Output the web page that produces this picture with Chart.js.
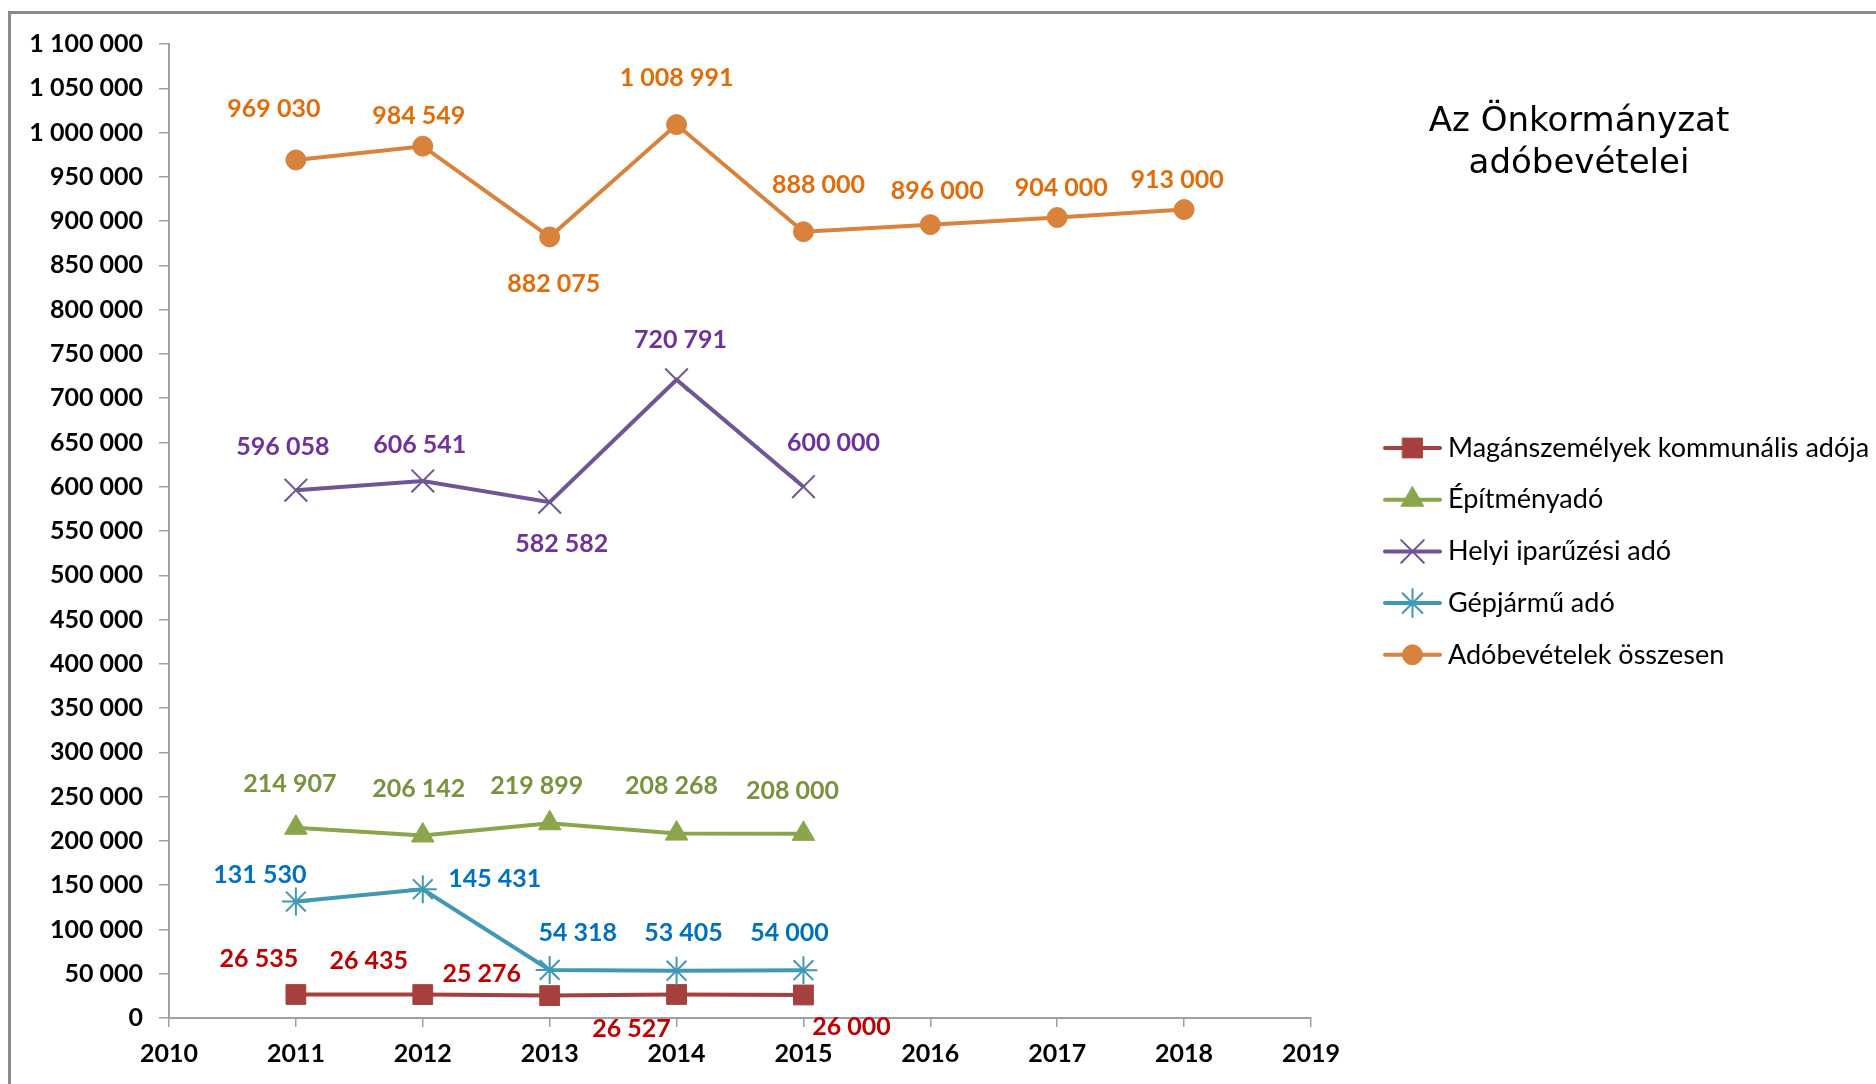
<!DOCTYPE html>
<html>
<head>
<meta charset="utf-8">
<script src="https://cdn.jsdelivr.net/npm/chart.js@4.4.1/dist/chart.umd.min.js"></script>
<style>
html,body{margin:0;padding:0;background:#ffffff;overflow:hidden;}
canvas{display:block;}
</style>
</head>
<body>
<canvas id="c" width="1876" height="1084"></canvas>
<script>
// ---------- DATA ----------
const years = [2011, 2012, 2013, 2014, 2015, 2016, 2017, 2018];
const seriesNames = [
  'Magánszemélyek kommunális adója',
  'Építményadó',
  'Helyi iparűzési adó',
  'Gépjármű adó',
  'Adóbevételek összesen'
];
const kommunalis  = [26535, 26435, 25276, 26527, 26000];
const epitmenyado = [214907, 206142, 219899, 208268, 208000];
const iparuzesi   = [596058, 606541, 582582, 720791, 600000];
const gepjarmu    = [131530, 145431, 54318, 53405, 54000];
const osszesen    = [969030, 984549, 882075, 1008991, 888000, 896000, 904000, 913000];
const xAxisRange  = [2010, 2019];
const xAxisStep   = 1;
const yAxisRange  = [0, 1100000];
const yAxisStep   = 50000;
const titleLines  = ['Az Önkormányzat', 'adóbevételei'];

// ---------- STYLES ----------
const seriesStyle = [
  {line:'#A5403D', label:'#C00000', point:'rect',     radius:14, pbw:1, fill:true},
  {line:'#8AA54A', label:'#77933C', point:'triangle', radius:13, pbw:1, fill:true},
  {line:'#6F5496', label:'#7030A0', point:'crossRot', radius:16, pbw:2, fill:false},
  {line:'#4198B2', label:'#0070C0', point:'star',     radius:14, pbw:2, fill:false},
  {line:'#D9823B', label:'#E36C09', point:'circle',   radius:10, pbw:1, fill:true}
];
// label offsets (dx, dy) relative to each point, per series
const labelOffsets = [
  [[-37,-36],[-54,-34],[-68,-22],[-45,34],[48,32]],
  [[-6,-44],[-4,-47],[-13,-37],[-5,-48],[-11,-43]],
  [[-13,-43],[-3,-36],[12,42],[4,-40],[30,-44]],
  [[-36,-27],[72,-10],[28,-37],[7,-38],[-14,-37]],
  [[-22,-51],[-4,-30],[4,47],[0,-47],[15,-47],[7,-34],[4,-30],[-7,-30]]
];
const FONT = 'Lato, "Open Sans", "DejaVu Sans", sans-serif';

const seriesValues = [kommunalis, epitmenyado, iparuzesi, gepjarmu, osszesen];

function fmt(v){
  return String(Math.round(v)).replace(/\B(?=(\d{3})+(?!\d))/g, ' ');
}

function drawMarker(ctx, style, r, x, y, color, bw, fill){
  ctx.save();
  ctx.strokeStyle = color;
  ctx.fillStyle = color;
  ctx.lineWidth = bw;
  ctx.beginPath();
  const s = Math.SQRT1_2 * r;
  if (style === 'circle'){
    ctx.arc(x, y, r, 0, Math.PI*2);
    ctx.closePath();
  } else if (style === 'rect'){
    ctx.rect(x - s, y - s, 2*s, 2*s);
  } else if (style === 'triangle'){
    const a = -Math.PI/2;
    ctx.moveTo(x + Math.cos(a)*r, y + Math.sin(a)*r);
    ctx.lineTo(x + Math.cos(a+2*Math.PI/3)*r, y + Math.sin(a+2*Math.PI/3)*r);
    ctx.lineTo(x + Math.cos(a+4*Math.PI/3)*r, y + Math.sin(a+4*Math.PI/3)*r);
    ctx.closePath();
  } else if (style === 'crossRot'){
    ctx.moveTo(x - s, y - s); ctx.lineTo(x + s, y + s);
    ctx.moveTo(x - s, y + s); ctx.lineTo(x + s, y - s);
  } else if (style === 'star'){
    ctx.moveTo(x, y - r); ctx.lineTo(x, y + r);
    ctx.moveTo(x - r, y); ctx.lineTo(x + r, y);
    ctx.moveTo(x - s, y - s); ctx.lineTo(x + s, y + s);
    ctx.moveTo(x - s, y + s); ctx.lineTo(x + s, y - s);
  }
  if (fill) ctx.fill();
  ctx.stroke();
  ctx.restore();
}

const datasets = seriesValues.map((vals, i) => {
  const st = seriesStyle[i];
  return {
    label: seriesNames[i],
    data: vals.map((v, k) => ({x: years[k], y: v})),
    borderColor: st.line,
    backgroundColor: st.line,
    borderWidth: 4,
    pointStyle: st.point,
    pointRadius: st.radius,
    pointHoverRadius: st.radius,
    pointBorderWidth: st.pbw,
    pointBackgroundColor: st.fill ? st.line : 'rgba(0,0,0,0)',
    pointBorderColor: st.line,
    tension: 0,
    fill: false,
    order: 4 - i
  };
});

const framePlugin = {
  id: 'frame',
  beforeDraw(chart){
    const ctx = chart.ctx;
    ctx.save();
    ctx.fillStyle = '#ffffff';
    ctx.fillRect(0, 0, chart.width, chart.height);
    ctx.strokeStyle = '#8A8A8A';
    ctx.lineWidth = 3;
    ctx.beginPath();
    ctx.moveTo(9.5, chart.height + 10);
    ctx.lineTo(9.5, 12.5);
    ctx.lineTo(chart.width + 10, 12.5);
    ctx.stroke();
    ctx.restore();
  }
};

const labelPlugin = {
  id: 'valueLabels',
  afterDatasetsDraw(chart){
    const ctx = chart.ctx;
    ctx.save();
    ctx.font = 'bold 25px ' + FONT;
    ctx.textAlign = 'center';
    ctx.textBaseline = 'middle';
    chart.data.datasets.forEach((ds, i) => {
      const meta = chart.getDatasetMeta(i);
      ctx.fillStyle = seriesStyle[i].label;
      meta.data.forEach((pt, k) => {
        const off = labelOffsets[i][k] || [0, -30];
        ctx.fillText(fmt(seriesValues[i][k]), pt.x + off[0], pt.y + off[1]);
      });
    });
    ctx.restore();
  },
  afterDraw(chart){
    const ctx = chart.ctx;
    ctx.save();
    // title
    ctx.fillStyle = '#000000';
    ctx.font = '34px "DejaVu Sans", ' + FONT;
    ctx.textAlign = 'center';
    ctx.textBaseline = 'middle';
    titleLines.forEach((t, j) => ctx.fillText(t, 1579, 122 + j*42));
    // legend
    ctx.font = '27px ' + FONT;
    ctx.textAlign = 'left';
    seriesNames.forEach((name, i) => {
      const st = seriesStyle[i];
      const y = 448 + i*51.7;
      ctx.strokeStyle = st.line;
      ctx.lineWidth = 4;
      ctx.lineCap = 'round';
      ctx.beginPath();
      ctx.moveTo(1385, y);
      ctx.lineTo(1440, y);
      ctx.stroke();
      drawMarker(ctx, st.point, st.radius, 1412.5, y, st.line, st.pbw, st.fill);
      ctx.fillStyle = '#000000';
      ctx.fillText(name, 1448, y);
    });
    ctx.restore();
  }
};

new Chart(document.getElementById('c'), {
  type: 'line',
  data: { datasets },
  options: {
    responsive: false,
    animation: false,
    events: [],
    layout: { padding: { left: 0, top: 44, right: 565, bottom: 0 } },
    plugins: { legend: { display: false }, tooltip: { enabled: false }, title: { display: false } },
    scales: {
      x: {
        type: 'linear',
        min: xAxisRange[0],
        max: xAxisRange[1],
        afterFit(scale){ scale.height = 66; },
        ticks: {
          stepSize: xAxisStep,
          color: '#000000',
          padding: 12,
          font: { family: FONT, size: 25, weight: 'bold' },
          callback: v => String(v)
        },
        grid: { display: true, drawOnChartArea: false, drawTicks: true, tickLength: 9, color: '#A0A0A0', lineWidth: 1.5 },
        border: { display: true, color: '#A0A0A0', width: 2 }
      },
      y: {
        type: 'linear',
        min: yAxisRange[0],
        max: yAxisRange[1],
        afterFit(scale){ scale.width = 169; },
        ticks: {
          stepSize: yAxisStep,
          color: '#000000',
          padding: 16,
          font: { family: FONT, size: 25, weight: 'bold' },
          callback: v => fmt(v)
        },
        grid: { display: true, drawOnChartArea: false, drawTicks: true, tickLength: 10, color: '#A0A0A0', lineWidth: 1.5 },
        border: { display: true, color: '#A0A0A0', width: 2 }
      }
    }
  },
  plugins: [framePlugin, labelPlugin]
});
</script>
</body>
</html>
